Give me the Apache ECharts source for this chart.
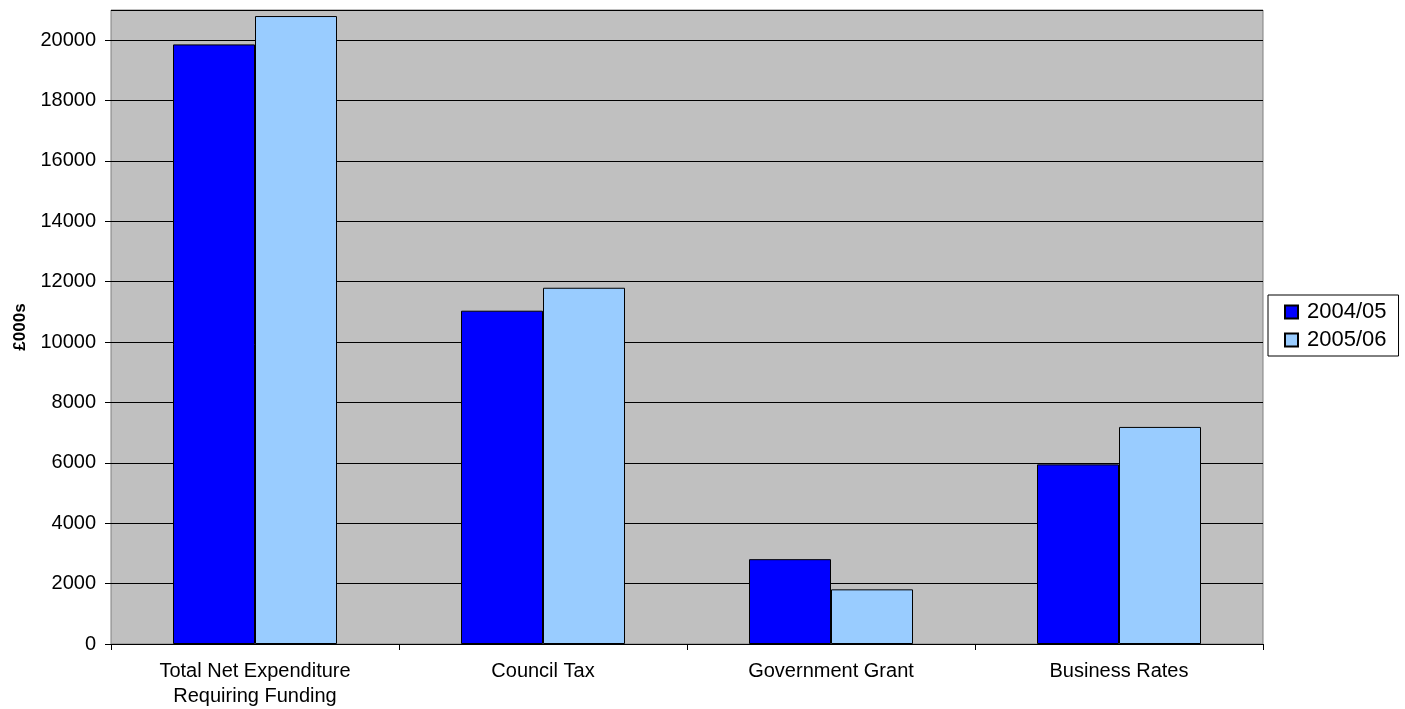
<!DOCTYPE html>
<html>
<head>
<meta charset="utf-8">
<script src="https://cdn.jsdelivr.net/npm/echarts@6/dist/echarts.min.js"></script>
<style>
  html, body { margin: 0; padding: 0; background: #fff; }
  #chart { width: 1405px; height: 709px; }
</style>
</head>
<body>
<div id="chart"></div>
<script>
// data
const categories = ['Total Net Expenditure\nRequiring Funding', 'Council Tax', 'Government Grant', 'Business Rates'];
const seriesNames = ['2004/05', '2005/06'];
const values0405 = [19860, 11040, 2810, 5950];
const values0506 = [20800, 11800, 1810, 7190];

const chart = echarts.init(document.getElementById('chart'));

const option = {
    backgroundColor: '#ffffff',
    animation: false,
    textStyle: { fontFamily: 'Liberation Sans, Arial, sans-serif' },
    grid: {
        left: 111, right: 142, top: 10, bottom: 64,
        show: true, backgroundColor: '#c0c0c0', borderColor: '#808080', borderWidth: 1
    },
    legend: {
        data: seriesNames,
        orient: 'vertical',
        left: 1268, top: 295,
        padding: [6, 12, 5, 16],
        itemWidth: 13, itemHeight: 13, itemGap: 6,
        borderColor: '#000', borderWidth: 1,
        backgroundColor: '#fff',
        textStyle: { fontSize: 22, color: '#000', padding: [0, 0, 0, 4] },
        icon: 'rect'
    },
    xAxis: {
        type: 'category',
        data: categories,
        axisLine: { lineStyle: { color: '#000', width: 1 } },
        axisTick: { show: true, length: 6, lineStyle: { color: '#000' } },
        axisLabel: { color: '#000', fontSize: 20, margin: 15, lineHeight: 25 }
    },
    yAxis: {
        type: 'value',
        min: 0, max: 21000, interval: 2000,
        name: '£000s',
        nameLocation: 'middle',
        nameGap: 82,
        nameRotate: 90,
        nameTextStyle: { fontSize: 17, fontWeight: 'bold', color: '#000' },
        axisLine: { show: false },
        axisTick: { show: true, length: 6, lineStyle: { color: '#000' } },
        axisLabel: { color: '#000', fontSize: 20, margin: 15, showMaxLabel: false,
            formatter: v => (v % 2000 === 0 ? String(v) : '') },
        splitLine: { show: true, lineStyle: { color: '#000', width: 1 } }
    },
    series: [
        { name: seriesNames[0], type: 'bar', data: values0405, barWidth: 82, barGap: '0%',
          itemStyle: { color: '#0000ff', borderColor: '#000', borderWidth: 1 } },
        { name: seriesNames[1], type: 'bar', data: values0506, barWidth: 82, barGap: '0%',
          itemStyle: { color: '#99ccff', borderColor: '#000', borderWidth: 1 } }
    ]
};
chart.setOption(option);
</script>
</body>
</html>
